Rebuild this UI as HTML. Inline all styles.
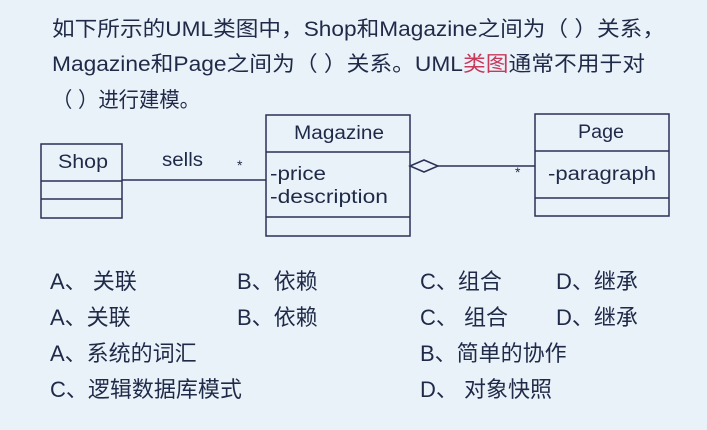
<!DOCTYPE html>
<html><head><meta charset="utf-8"><style>
html,body{margin:0;padding:0;background:#eaf2f9;}
svg{display:block}
text{font-family:"Liberation Sans","Noto Sans CJK SC",sans-serif;fill:#1f2a48}
</style></head><body>
<svg width="707" height="430" viewBox="0 0 707 430">
<rect width="707" height="430" fill="#eaf2f9"/>
<g font-size="21">
<text x="52" y="36" textLength="613" lengthAdjust="spacingAndGlyphs">如下所示的UML类图中，Shop和Magazine之间为（ ）关系，</text>
<text x="52" y="71" textLength="593" lengthAdjust="spacingAndGlyphs">Magazine和Page之间为（ ）关系。UML<tspan style="fill:#c8385a">类图</tspan>通常不用于对</text>
<text x="52" y="107" textLength="148" lengthAdjust="spacingAndGlyphs">（ ）进行建模。</text>
</g>
<g fill="none" stroke="#2a3157" stroke-width="1.5">
<rect x="41" y="144" width="81" height="74"/>
<line x1="41" y1="181" x2="122" y2="181"/><line x1="41" y1="199" x2="122" y2="199"/>
<rect x="266" y="115" width="144" height="121"/>
<line x1="266" y1="152" x2="410" y2="152"/><line x1="266" y1="217" x2="410" y2="217"/>
<rect x="535" y="114" width="134" height="102"/>
<line x1="535" y1="151" x2="669" y2="151"/><line x1="535" y1="198" x2="669" y2="198"/>
<line x1="122" y1="180" x2="266" y2="180"/>
<polygon points="410,166 424,160 438,166 424,172" fill="#eaf2f9"/>
<line x1="438" y1="166" x2="535" y2="166"/>
</g>
<g font-size="19">
<text x="58" y="168" textLength="50" lengthAdjust="spacingAndGlyphs">Shop</text>
<text x="294" y="139" textLength="90" lengthAdjust="spacingAndGlyphs">Magazine</text>
<text x="578" y="138" textLength="46" lengthAdjust="spacingAndGlyphs">Page</text>
<text x="270" y="180" textLength="56" lengthAdjust="spacingAndGlyphs">-price</text>
<text x="270" y="203" textLength="118" lengthAdjust="spacingAndGlyphs">-description</text>
<text x="548" y="180" textLength="108" lengthAdjust="spacingAndGlyphs">-paragraph</text>
<text x="162" y="166" textLength="41" lengthAdjust="spacingAndGlyphs">sells</text>
<text x="237" y="170" font-size="14">*</text>
<text x="515" y="177" font-size="14">*</text>
</g>
<g font-size="22">
<text x="50" y="289">A、 关联</text><text x="237" y="289">B、依赖</text><text x="420" y="289">C、组合</text><text x="556" y="289">D、继承</text>
<text x="50" y="325">A、关联</text><text x="237" y="325">B、依赖</text><text x="420" y="325">C、 组合</text><text x="556" y="325">D、继承</text>
<text x="50" y="361">A、系统的词汇</text><text x="420" y="361">B、简单的协作</text>
<text x="50" y="397">C、逻辑数据库模式</text><text x="420" y="397">D、 对象快照</text>
</g>
</svg>
</body></html>
